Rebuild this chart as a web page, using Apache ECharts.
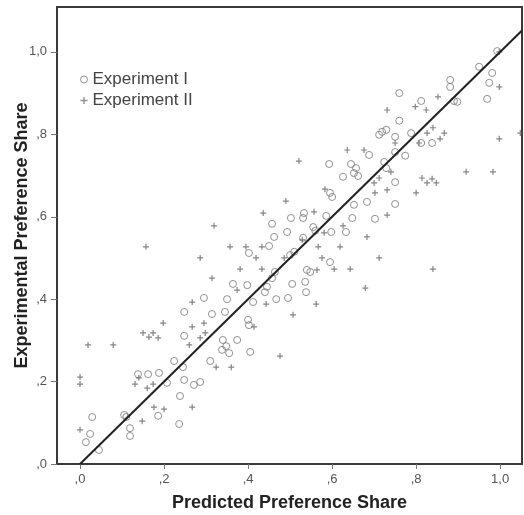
<!DOCTYPE html>
<html>
<head>
<meta charset="utf-8">
<script src="https://cdn.jsdelivr.net/npm/echarts@6/dist/echarts.min.js"></script>
<style>
    html, body { margin: 0; padding: 0; background: #fff; }
    #chart { width: 524px; height: 515px; }
</style>
</head>
<body>
<div id="chart"></div>
<script>
// tick positions for both axes
let tickValues = [0, 0.2, 0.4, 0.6, 0.8, 1.0];
let legendNames = ["Experiment I", "Experiment II"];

// Experiment I (circles): [predicted, experimental]
let experimentOne = [
    [0.029, 0.114], [0.024, 0.073], [0.014, 0.053], [0.045, 0.034], [0.105, 0.119],
    [0.110, 0.114], [0.119, 0.087], [0.119, 0.068], [0.138, 0.218], [0.162, 0.218],
    [0.188, 0.221], [0.207, 0.197], [0.186, 0.117], [0.224, 0.250], [0.245, 0.235],
    [0.248, 0.204], [0.238, 0.165], [0.236, 0.097], [0.248, 0.311], [0.248, 0.369],
    [0.271, 0.192], [0.286, 0.199], [0.295, 0.403], [0.314, 0.364], [0.310, 0.250],
    [0.340, 0.301], [0.348, 0.286], [0.338, 0.277], [0.355, 0.269], [0.374, 0.301],
    [0.350, 0.400], [0.345, 0.369], [0.364, 0.437], [0.398, 0.434], [0.400, 0.350],
    [0.402, 0.337], [0.405, 0.272], [0.412, 0.393], [0.440, 0.417], [0.445, 0.430],
    [0.467, 0.400], [0.495, 0.403], [0.505, 0.437], [0.536, 0.442], [0.538, 0.417],
    [0.548, 0.466], [0.464, 0.466], [0.457, 0.451], [0.595, 0.490], [0.540, 0.471],
    [0.402, 0.512], [0.500, 0.507], [0.510, 0.515], [0.450, 0.529], [0.462, 0.551],
    [0.457, 0.583], [0.493, 0.563], [0.502, 0.597], [0.531, 0.597], [0.533, 0.609],
    [0.555, 0.575], [0.560, 0.566], [0.531, 0.549], [0.586, 0.602], [0.598, 0.563],
    [0.633, 0.563], [0.595, 0.658], [0.600, 0.648], [0.593, 0.728], [0.645, 0.728],
    [0.657, 0.718], [0.652, 0.706], [0.662, 0.699], [0.626, 0.697], [0.688, 0.750],
    [0.724, 0.733], [0.729, 0.718], [0.750, 0.757], [0.774, 0.748], [0.750, 0.684],
    [0.652, 0.629], [0.683, 0.636], [0.750, 0.631], [0.648, 0.597], [0.702, 0.595],
    [0.712, 0.799], [0.719, 0.806], [0.729, 0.811], [0.750, 0.794], [0.788, 0.803],
    [0.812, 0.779], [0.838, 0.779], [0.760, 0.833], [0.760, 0.900], [0.812, 0.881],
    [0.881, 0.932], [0.881, 0.915], [0.890, 0.881], [0.898, 0.879], [0.950, 0.964],
    [0.981, 0.949], [0.974, 0.925], [0.969, 0.886], [0.993, 1.002]
];

// Experiment II (plus signs): [predicted, experimental]
let experimentTwo = [
    [0.000, 0.083], [0.000, 0.211], [0.000, 0.194], [0.019, 0.289], [0.079, 0.289],
    [0.150, 0.318], [0.164, 0.308], [0.174, 0.318], [0.186, 0.306], [0.198, 0.342],
    [0.131, 0.194], [0.140, 0.209], [0.160, 0.184], [0.174, 0.194], [0.148, 0.104],
    [0.176, 0.138], [0.200, 0.133], [0.267, 0.138], [0.267, 0.393], [0.267, 0.333],
    [0.295, 0.342], [0.286, 0.306], [0.298, 0.318], [0.260, 0.289], [0.324, 0.235],
    [0.360, 0.235], [0.314, 0.451], [0.374, 0.422], [0.381, 0.473], [0.433, 0.473],
    [0.414, 0.333], [0.443, 0.388], [0.507, 0.362], [0.476, 0.262], [0.562, 0.388],
    [0.157, 0.527], [0.286, 0.500], [0.319, 0.578], [0.357, 0.527], [0.395, 0.527],
    [0.433, 0.527], [0.419, 0.500], [0.486, 0.500], [0.436, 0.609], [0.490, 0.638],
    [0.521, 0.735], [0.576, 0.500], [0.605, 0.473], [0.643, 0.473], [0.712, 0.500],
    [0.840, 0.473], [0.564, 0.471], [0.679, 0.427], [0.619, 0.527], [0.567, 0.527],
    [0.529, 0.544], [0.581, 0.561], [0.626, 0.578], [0.683, 0.551], [0.557, 0.612],
    [0.583, 0.667], [0.731, 0.604], [0.702, 0.658], [0.731, 0.665], [0.800, 0.658],
    [0.712, 0.694], [0.740, 0.709], [0.814, 0.694], [0.826, 0.682], [0.838, 0.692],
    [0.848, 0.682], [0.919, 0.709], [0.983, 0.709], [0.998, 0.789], [1.048, 0.803],
    [0.998, 0.915], [0.852, 0.891], [0.798, 0.867], [0.824, 0.859], [0.731, 0.859],
    [0.840, 0.816], [0.826, 0.803], [0.807, 0.779], [0.867, 0.803], [0.857, 0.789],
    [0.750, 0.779], [0.636, 0.762], [0.676, 0.762], [0.998, 1.000], [0.700, 0.682]
];

// y = x reference line
let fitLine = [[0, 0], [1.052, 1.052]];

let plusPath = "path://M4,0h2v4h4v2h-4v4h-2v-4h-4v-2h4z";

function fmtTick(v) {
    return v.toFixed(1).replace(".", ",").replace(/^0/, "");
}

let chart = echarts.init(document.getElementById("chart"));

chart.setOption({
    backgroundColor: "#ffffff",
    animation: false,
    textStyle: {
        fontFamily: "Liberation Sans, Arial, sans-serif",
    },
    legend: {
        orient: "vertical",
        left: 75,
        top: 66,
        itemWidth: 7,
        itemHeight: 7,
        itemGap: 4,
        textStyle: {
            color: "#444",
            fontSize: 17,
            padding: [0, 0, 0, 0],
        },
        data: [
            { name: legendNames[0], icon: "circle", itemStyle: { color: "rgba(0,0,0,0)", borderColor: "#777", borderWidth: 1 } },
            { name: legendNames[1], icon: plusPath, itemStyle: { color: "#777", borderWidth: 0 } },
        ],
    },
    grid: {
        show: true,
        left: 57,
        top: 7,
        right: 2,
        bottom: 51,
        outerBoundsMode: "none",
        containLabel: false,
        borderColor: "#3a3a3a",
        borderWidth: 2,
        backgroundColor: "#fff",
    },
    xAxis: {
        type: "value",
        min: -0.0548,
        max: 1.052,
        name: "Predicted Preference Share",
        nameLocation: "middle",
        nameGap: 30,
        nameTextStyle: {
            color: "#222",
            fontSize: 18,
            fontWeight: "bold",
        },
        axisLine: { show: true, onZero: false, lineStyle: { color: "#3a3a3a", width: 2 } },
        axisTick: {
            show: true,
            length: 5,
            customValues: tickValues,
            lineStyle: { color: "#777" },
        },
        axisLabel: {
            customValues: tickValues,
            color: "#555",
            fontSize: 13,
            margin: 9,
            formatter: fmtTick,
        },
        splitLine: { show: false },
    },
    yAxis: {
        type: "value",
        min: 0,
        max: 1.109,
        name: "Experimental Preference Share",
        nameLocation: "middle",
        nameGap: 26,
        nameMoveOverlap: false,
        nameTextStyle: {
            color: "#222",
            fontSize: 18,
            fontWeight: "bold",
        },
        axisLine: { show: true, onZero: false, lineStyle: { color: "#3a3a3a", width: 2 } },
        axisTick: {
            show: true,
            length: 6,
            customValues: tickValues,
            lineStyle: { color: "#777" },
        },
        axisLabel: {
            customValues: tickValues,
            color: "#555",
            fontSize: 13,
            margin: 10,
            formatter: fmtTick,
        },
        splitLine: { show: false },
    },
    series: [
        {
            name: legendNames[0],
            type: "scatter",
            symbol: "circle",
            symbolSize: 7,
            itemStyle: {
                color: "rgba(0,0,0,0)",
                borderColor: "#777",
                borderWidth: 1,
            },
            data: experimentOne,
            z: 3,
        },
        {
            name: legendNames[1],
            type: "scatter",
            symbol: plusPath,
            symbolSize: 6,
            itemStyle: {
                color: "#666",
            },
            data: experimentTwo,
            z: 3,
        },
        {
            name: "fit",
            type: "line",
            symbol: "none",
            lineStyle: { color: "#222", width: 2 },
            data: fitLine,
            z: 4,
        },
    ],
});
</script>
</body>
</html>
